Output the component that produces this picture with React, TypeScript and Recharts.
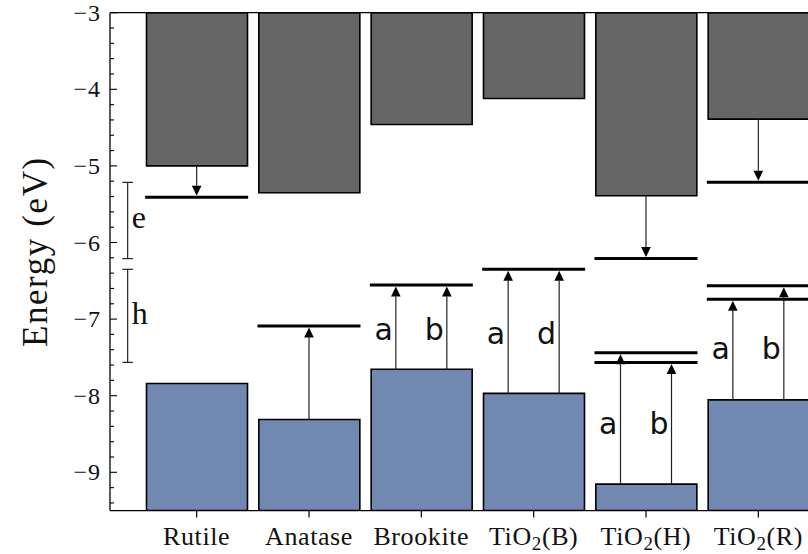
import React from "react";
import { ComposedChart, Bar, XAxis, YAxis, ReferenceLine, ReferenceDot } from "recharts";

const polymorphs = ["Rutile", "Anatase", "Brookite", "TiO2(B)", "TiO2(H)", "TiO2(R)"];
const conductionBand = [-5.0, -5.35, -4.46, -4.12, -5.39, -4.39];
const valenceBand = [-7.84, -8.31, -7.655, -7.97, -9.155, -8.055];

const energyTop = -3;
const energyBottom = -9.5;
const majorTicks = [-9, -8, -7, -6, -5, -4, -3];

// defect levels drawn as thick bars across each column
const levelPolymorph = ["Rutile", "Anatase", "Brookite", "TiO2(B)", "TiO2(H)", "TiO2(H)", "TiO2(H)", "TiO2(R)", "TiO2(R)", "TiO2(R)"];
const levelEnergy = [-5.41, -7.09, -6.555, -6.35, -6.21, -7.44, -7.565, -5.215, -6.565, -6.74];

// transitions: from a band edge to a level; slot -1/0/1 = left/middle/right of the column
const transitions = [
  { polymorph: "Rutile", band: "cb", target: -5.41, slot: 0, tag: "" },
  { polymorph: "Anatase", band: "vb", target: -7.09, slot: 0, tag: "" },
  { polymorph: "Brookite", band: "vb", target: -6.555, slot: -1, tag: "a" },
  { polymorph: "Brookite", band: "vb", target: -6.555, slot: 1, tag: "b" },
  { polymorph: "TiO2(B)", band: "vb", target: -6.35, slot: -1, tag: "a" },
  { polymorph: "TiO2(B)", band: "vb", target: -6.35, slot: 1, tag: "d" },
  { polymorph: "TiO2(H)", band: "cb", target: -6.21, slot: 0, tag: "" },
  { polymorph: "TiO2(H)", band: "vb", target: -7.44, slot: -1, tag: "a" },
  { polymorph: "TiO2(H)", band: "vb", target: -7.565, slot: 1, tag: "b" },
  { polymorph: "TiO2(R)", band: "cb", target: -5.215, slot: 0, tag: "" },
  { polymorph: "TiO2(R)", band: "vb", target: -6.74, slot: -1, tag: "a" },
  { polymorph: "TiO2(R)", band: "vb", target: -6.565, slot: 1, tag: "b" },
];

const GRAY = "#666666";
const BLUE = "#7189b0";
const SERIF = "'Liberation Serif', 'Times New Roman', serif";
const SANS = "'DejaVu Sans', sans-serif";
const SLOT_DX = 25.5;
const LEVEL_HALF = 51.5;

const chartData = polymorphs.map((name, i) => ({
  name,
  cb: [conductionBand[i], energyTop],
  vb: [energyBottom, valenceBand[i]],
}));

// every 0.2 eV: integers carry labels, the rest are minor ticks
const yTicks = Array.from({ length: 33 }, (_, i) => Math.round((energyBottom + 0.1 + i * 0.2) * 10) / 10);

const bandEdge = (t: { polymorph: string; band: string }) => {
  const i = polymorphs.indexOf(t.polymorph);
  return t.band === "cb" ? conductionBand[i] : valenceBand[i];
};

// electron (down) and hole (up) level ranges for the side brackets
const eTargets = transitions.filter((t) => t.band === "cb").map((t) => t.target);
const hTargets = transitions.filter((t) => t.band === "vb").map((t) => t.target);
const brackets = [
  { tag: "e", top: Math.max(...eTargets), bottom: Math.min(...eTargets) },
  { tag: "h", top: Math.max(...hTargets), bottom: Math.min(...hTargets) },
];

// tag labels sit halfway between the band edge and the mean target of the column
const tagLabels = transitions
  .filter((t) => t.tag)
  .map((t) => {
    const group = transitions.filter((o) => o.tag && o.polymorph === t.polymorph);
    const meanTarget = group.reduce((s, o) => s + o.target, 0) / group.length;
    return { polymorph: t.polymorph, slot: t.slot, tag: t.tag, energy: (bandEdge(t) + meanTarget) / 2 };
  });

function EnergyTick(props: any) {
  const { x, y, payload } = props;
  const v = payload.value;
  const major = majorTicks.some((m) => Math.abs(v - m) < 1e-6);
  return (
    <g>
      <line x1={x} x2={x + (major ? 7 : 4)} y1={y} y2={y} stroke="#000" strokeWidth={1.1} />
      {major && (
        <text x={x - 9} y={y + 8} textAnchor="end" fontFamily={SERIF} fontSize={24} fill="#111" letterSpacing={1}>
          {v < 0 ? `\u2212${Math.abs(v)}` : `${v}`}
        </text>
      )}
    </g>
  );
}

function PolymorphTick(props: any) {
  const { x, y, payload } = props;
  const name: string = payload.value;
  const m = name.match(/^TiO2(.*)$/);
  return (
    <text x={x} y={y + 25} textAnchor="middle" fontFamily={SERIF} fontSize={26} fill="#111" letterSpacing={0.6}>
      {m ? (
        <>
          TiO
          <tspan fontSize={19} dy={5}>2</tspan>
          <tspan dy={-5}>{m[1]}</tspan>
        </>
      ) : (
        name
      )}
    </text>
  );
}

function EnergyLabel(props: any) {
  const vb = props.viewBox || { x: 0, y: 13, width: 110, height: 498 };
  const cx = vb.x + 47;
  const cy = vb.y + vb.height / 2 - 10;
  return (
    <text
      x={cx}
      y={cy}
      transform={`rotate(-90, ${cx}, ${cy})`}
      textAnchor="middle"
      fontFamily={SERIF}
      fontSize={35}
      letterSpacing={1.6}
      fill="#111"
    >
      Energy (eV)
    </text>
  );
}

function Arrow(props: any) {
  const { x1, y1, y2, slot } = props;
  const x = x1 + slot * SLOT_DX;
  const dir = y2 > y1 ? 1 : -1;
  const tip = y2 - dir * 1.5;
  const base = tip - dir * 10;
  return (
    <g>
      <line x1={x} x2={x} y1={y1} y2={base} stroke="#222" strokeWidth={1.2} />
      <polygon points={`${x},${tip} ${x - 4.8},${base} ${x + 4.8},${base}`} fill="#000" />
    </g>
  );
}

function Bracket(props: any) {
  const { x1, y1, y2, tag } = props;
  const x = x1 - 69;
  return (
    <g>
      <line x1={x} x2={x} y1={y1} y2={y2} stroke="#222" strokeWidth={1.2} />
      <line x1={x - 5.3} x2={x + 5.3} y1={y1} y2={y1} stroke="#222" strokeWidth={1.2} />
      <line x1={x - 5.3} x2={x + 5.3} y1={y2} y2={y2} stroke="#222" strokeWidth={1.2} />
      <text x={x + 4} y={(y1 + y2) / 2 + 8} fontFamily={SERIF} fontSize={32} fill="#111">
        {tag}
      </text>
    </g>
  );
}

export default function App() {
  return (
    <div style={{ position: "absolute", left: 0, top: 0, width: 808, height: 554, overflow: "hidden", background: "#fff" }}>
      <ComposedChart width={845} height={554} data={chartData} margin={{ top: 12.7, right: 0, bottom: 0, left: 0 }}>
        <XAxis
          dataKey="name"
          type="category"
          height={43.4}
          padding={{ left: 30.5, right: 30.5 }}
          tickSize={7}
          tickMargin={2}
          tickLine={{ stroke: "#000", strokeWidth: 1.2 }}
          axisLine={{ stroke: "#000", strokeWidth: 1.3 }}
          tick={<PolymorphTick />}
          interval={0}
        />
        <XAxis xAxisId="vb" dataKey="name" type="category" hide padding={{ left: 30.5, right: 30.5 }} />
        <YAxis
          type="number"
          domain={[energyBottom, energyTop]}
          allowDataOverflow
          ticks={yTicks}
          interval={0}
          width={110}
          tickSize={0}
          tickMargin={0}
          tickLine={false}
          axisLine={{ stroke: "#000", strokeWidth: 1.3 }}
          tick={<EnergyTick />}
          label={(p: any) => <EnergyLabel {...p} />}
        />
        <ReferenceLine y={energyTop} stroke="#000" strokeWidth={1.3} ifOverflow="visible" />
        <Bar dataKey="cb" fill={GRAY} stroke="#000" strokeWidth={1.6} barSize={101} isAnimationActive={false} />
        <Bar dataKey="vb" xAxisId="vb" fill={BLUE} stroke="#000" strokeWidth={1.6} barSize={101} isAnimationActive={false} />
        {levelEnergy.map((e, i) => (
          <ReferenceDot
            key={`lvl-${i}`}
            x={levelPolymorph[i]}
            y={e}
            r={0}
            ifOverflow="visible"
            shape={(p: any) => (
              <line x1={p.cx - LEVEL_HALF} x2={p.cx + LEVEL_HALF} y1={p.cy} y2={p.cy} stroke="#000" strokeWidth={3} />
            )}
          />
        ))}
        {transitions.map((t, i) => (
          <ReferenceLine
            key={`tr-${i}`}
            segment={[
              { x: t.polymorph, y: bandEdge(t) },
              { x: t.polymorph, y: t.target },
            ]}
            ifOverflow="visible"
            shape={(p: any) => <Arrow {...p} slot={t.slot} />}
          />
        ))}
        {tagLabels.map((l, i) => (
          <ReferenceDot
            key={`tag-${i}`}
            x={l.polymorph}
            y={l.energy}
            r={0}
            ifOverflow="visible"
            shape={(p: any) => (
              <text x={p.cx + l.slot * SLOT_DX - 3} y={p.cy + 13} textAnchor="end" fontFamily={SANS} fontSize={30} fill="#111">
                {l.tag}
              </text>
            )}
          />
        ))}
        {brackets.map((b) => (
          <ReferenceLine
            key={`br-${b.tag}`}
            segment={[
              { x: polymorphs[0], y: b.top },
              { x: polymorphs[0], y: b.bottom },
            ]}
            ifOverflow="visible"
            shape={(p: any) => <Bracket {...p} tag={b.tag} />}
          />
        ))}
      </ComposedChart>
    </div>
  );
}
